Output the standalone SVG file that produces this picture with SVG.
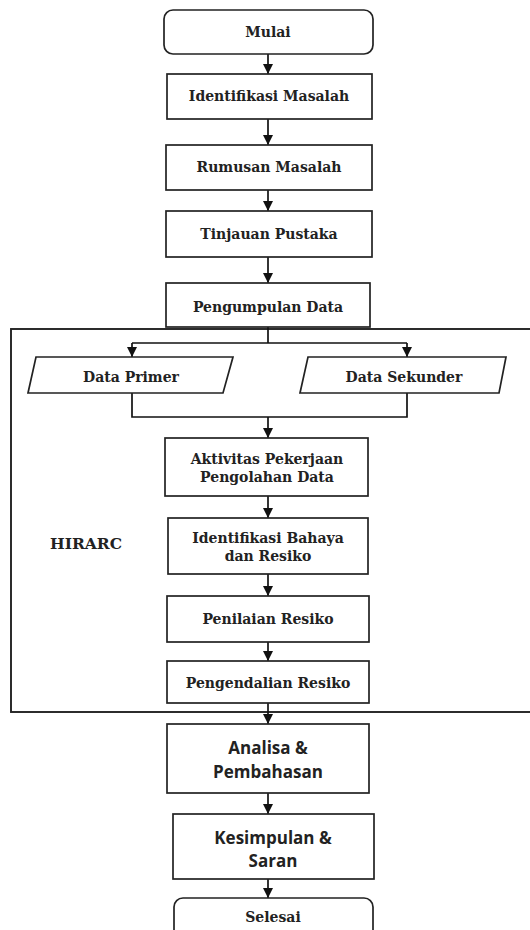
<svg xmlns="http://www.w3.org/2000/svg" width="530" height="930" viewBox="0 0 530 930">
<defs>
<marker id="ah" viewBox="0 0 10 10" refX="10" refY="5" markerWidth="10" markerHeight="10" markerUnits="userSpaceOnUse" orient="auto">
<path d="M0,0 L10,5 L0,10 z" fill="#111"/>
</marker>
<style>
.box{fill:#fff;stroke:#222;stroke-width:1.7}
.frame{fill:none;stroke:#222;stroke-width:1.9}
.ln{fill:none;stroke:#111;stroke-width:1.7}
.arr{fill:none;stroke:#111;stroke-width:1.7;marker-end:url(#ah)}
.t{font-family:"DejaVu Serif","Liberation Serif",serif;font-weight:bold;font-size:14px;fill:#222;text-anchor:middle;dominant-baseline:central}
.h{font-size:15.5px}
.s{font-family:"Open Sans","Liberation Sans",sans-serif;font-weight:bold;font-size:17px;fill:#222;text-anchor:middle;dominant-baseline:central}
</style>
</defs>
<rect id="hirarc-frame" class="frame" x="11" y="329" width="530" height="383"/>
<g id="connectors">
<line class="arr" x1="268" y1="54" x2="268" y2="74"/>
<line class="arr" x1="268" y1="119" x2="268" y2="145"/>
<line class="arr" x1="268" y1="190" x2="268" y2="211"/>
<line class="arr" x1="268" y1="257" x2="268" y2="283"/>
<polyline class="ln" points="268,327 268,343"/>
<polyline class="ln" points="132,343 407,343"/>
<line class="arr" x1="132" y1="343" x2="132" y2="357"/>
<line class="arr" x1="407" y1="343" x2="407" y2="357"/>
<polyline class="ln" points="132,393 132,417 407,417 407,393"/>
<line class="arr" x1="268" y1="417" x2="268" y2="438"/>
<line class="arr" x1="268" y1="496" x2="268" y2="518"/>
<line class="arr" x1="268" y1="574" x2="268" y2="596"/>
<line class="arr" x1="268" y1="642" x2="268" y2="661"/>
<line class="arr" x1="268" y1="703" x2="268" y2="724"/>
<line class="arr" x1="268" y1="793" x2="268" y2="814"/>
<line class="arr" x1="268" y1="879" x2="268" y2="898"/>
</g>
<g id="mulai"><rect class="box" x="164" y="10" width="209" height="44" rx="9"/><text class="t" x="268" y="32">Mulai</text></g>
<g id="identifikasi-masalah"><rect class="box" x="167" y="74" width="205" height="45"/><text class="t" x="269" y="96">Identifikasi Masalah</text></g>
<g id="rumusan-masalah"><rect class="box" x="166" y="145" width="206" height="45"/><text class="t" x="269" y="167">Rumusan Masalah</text></g>
<g id="tinjauan-pustaka"><rect class="box" x="166" y="211" width="206" height="46"/><text class="t" x="269" y="234">Tinjauan Pustaka</text></g>
<g id="pengumpulan-data"><rect class="box" x="166" y="283" width="204" height="44"/><text class="t" x="268" y="307">Pengumpulan Data</text></g>
<g id="data-primer"><polygon class="box" points="36,357 233,357 223,393 28,393"/><text class="t" x="131" y="377">Data Primer</text></g>
<g id="data-sekunder"><polygon class="box" points="308,357 506,357 499,393 300,393"/><text class="t" x="404" y="377">Data Sekunder</text></g>
<g id="aktivitas"><rect class="box" x="165" y="438" width="203" height="58"/><text class="t" x="267" y="459">Aktivitas Pekerjaan</text><text class="t" x="267" y="477">Pengolahan Data</text></g>
<g id="identifikasi-bahaya"><rect class="box" x="168" y="518" width="200" height="56"/><text class="t" x="268" y="538">Identifikasi Bahaya</text><text class="t" x="268" y="556">dan Resiko</text></g>
<g id="penilaian-resiko"><rect class="box" x="167" y="596" width="202" height="46"/><text class="t" x="268" y="619">Penilaian Resiko</text></g>
<g id="pengendalian-resiko"><rect class="box" x="167" y="661" width="202" height="42"/><text class="t" x="268" y="683">Pengendalian Resiko</text></g>
<g id="hirarc-label"><text class="t h" x="86" y="543">HIRARC</text></g>
<g id="analisa"><rect class="box" x="167" y="724" width="202" height="69"/><text class="s" x="268" y="747">Analisa &amp;</text><text class="s" x="268" y="771">Pembahasan</text></g>
<g id="kesimpulan"><rect class="box" x="173" y="814" width="201" height="65"/><text class="s" x="273" y="837">Kesimpulan &amp;</text><text class="s" x="273" y="860">Saran</text></g>
<g id="selesai"><rect class="box" x="174" y="898" width="199" height="50" rx="9"/><text class="t" x="273" y="917">Selesai</text></g>
</svg>
